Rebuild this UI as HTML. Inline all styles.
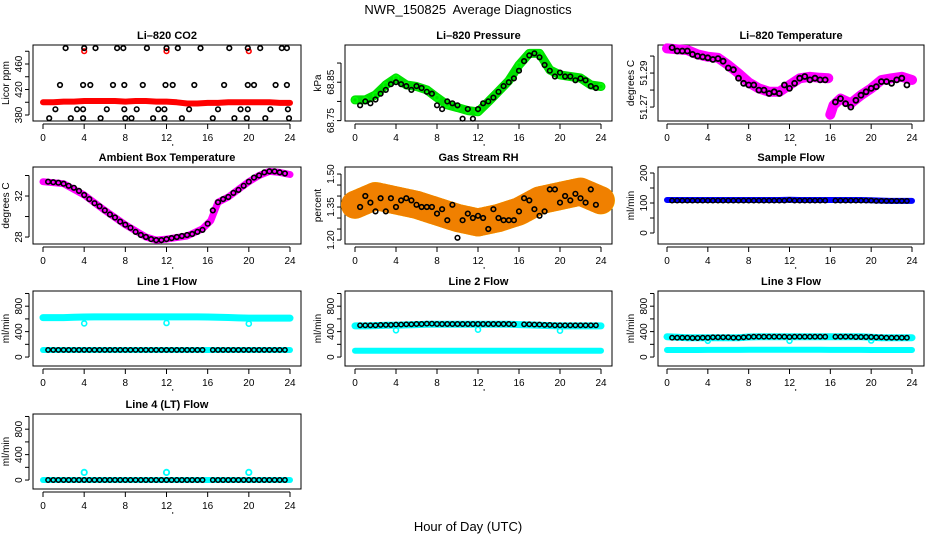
<!DOCTYPE html>
<html><head><meta charset="utf-8"><style>
html,body{margin:0;padding:0;background:#fff;}
svg{display:block;font-family:"Liberation Sans",Arial,sans-serif;}
</style></head><body>
<svg id="c" width="936" height="540" viewBox="0 0 936 540">
<text x="468" y="14" text-anchor="middle" font-size="13">NWR_150825&#160; Average Diagnostics</text>
<text x="468" y="531" text-anchor="middle" font-size="13">Hour of Day (UTC)</text>
</svg>
<script>
// ---------- data ----------
const hourTicks = [0,4,8,12,16,20,24];
const bandHrs = [0,1,2,3,4,5,6,7,8,9,10,11,12,13,14,15,16,17,18,19,20,21,22,23,24];
const blackHrs = [0.5,1,1.5,2,2.5,3,3.5,4,4.5,5,5.5,6,6.5,7,7.5,8,8.5,9,9.5,10,10.5,11,11.5,12,12.5,13,13.5,14,14.5,15,15.5,16,16.5,17,17.5,18,18.5,19,19.5,20,20.5,21,21.5,22,22.5,23,23.5];

// CO2
const co2Band = [400,400,401,401,402,402,402,402,401,402,402,401,401,400,398,398,399,399,400,400,400,400,400,399,399];
const co2BlackHrs = [2.2,4.0,5.1,7.2,7.8,10.1,12.0,13.1,15.3,18.1,19.9,21.1,23.2,23.7,
 1.65,3.9,4.6,6.8,7.9,9.7,11.9,12.6,14.7,17.6,19.9,20.5,22.6,23.7,
 1.2,3.3,3.9,6.2,7.9,9.1,11.2,11.8,14.2,17.0,19.2,19.9,22.1,23.8,
 0.6,2.7,3.9,5.6,8.0,8.6,10.7,11.8,13.5,16.5,18.6,19.8,21.6,23.9];
const co2BlackVals = [485,485,485,485,485,485,485,485,485,485,485,485,485,485,
 427,427,427,427,427,427,427,427,427,427,427,427,427,427,
 389,389,389,389,389,389,389,389,389,389,389,389,389,389,
 375,375,375,375,375,375,375,375,375,375,375,375,375,375];
const co2OutHrs = [4,12,20];
const co2OutVals = [480,480,480];

// Pressure
const presBand = [68.804,68.804,68.817,68.843,68.861,68.843,68.839,68.830,68.810,68.791,68.784,68.776,68.773,68.799,68.826,68.854,68.895,68.925,68.925,68.882,68.869,68.865,68.861,68.843,68.839];
const presBlack = [68.79,68.80,68.795,68.805,68.82,68.83,68.845,68.85,68.845,68.84,68.83,68.84,68.835,68.825,68.82,68.79,68.78,68.80,68.795,68.79,68.755,68.78,68.755,68.78,68.795,68.80,68.81,68.825,68.84,68.85,68.86,68.88,68.905,68.92,68.925,68.915,68.895,68.88,68.865,68.875,68.865,68.865,68.855,68.86,68.855,68.84,68.835];

// Li-820 temperature
const tempBandHrs1 = [0,1,2,3,4,5,6,7,8,9,10,11,12,13,14,15,15.8];
const tempBand1 = [51.3045,51.304,51.3035,51.301,51.2996,51.299,51.2947,51.2898,51.2845,51.281,51.279,51.279,51.283,51.2869,51.2878,51.2872,51.287];
const tempBandHrs2 = [16,16.3,17,18,19,20,21,22,23,24];
const tempBand2 = [51.2655,51.271,51.275,51.2722,51.277,51.281,51.2859,51.2869,51.2878,51.2859];
const tempBlack = [51.305,51.303,51.303,51.303,51.301,51.300,51.2995,51.299,51.298,51.2985,51.297,51.293,51.292,51.287,51.284,51.283,51.283,51.280,51.280,51.278,51.279,51.278,51.283,51.281,51.284,51.287,51.288,51.286,51.287,51.286,51.286,null,51.273,51.275,51.272,51.270,51.274,51.277,51.279,51.281,51.282,51.285,51.285,51.284,51.286,51.287,51.283];

// Ambient box temperature
const ambBandHrs = [0,2,4,6,8,10,11,12,14,15.5,16.3,17,18,20,21,22,23,24];
const ambBand = [33.4,33.2,32.1,30.6,29.2,28.0,27.7,27.8,28.1,28.8,29.6,31.4,31.9,33.4,34.0,34.4,34.3,34.1];
const ambBlack = [33.4,33.35,33.3,33.2,33.0,32.8,32.5,32.1,31.7,31.3,31.0,30.6,30.2,29.9,29.5,29.2,28.9,28.5,28.2,28.0,27.8,27.7,27.7,27.8,27.9,28.0,28.1,28.2,28.3,28.5,28.7,29.3,30.6,31.4,31.7,31.9,32.3,32.6,33.0,33.4,33.8,34.0,34.3,34.4,34.4,34.3,34.2];

// Gas stream RH
const rhBandHrs = [0,2,4,6,8,10,12,14,16,18,20,22,24];
const rhBand = [1.36,1.40,1.38,1.36,1.33,1.30,1.28,1.30,1.33,1.38,1.40,1.42,1.38];
const rhBlack = [1.35,1.40,1.37,1.33,1.39,1.33,1.39,1.35,1.38,1.39,1.38,1.36,1.35,1.35,1.35,1.32,1.34,1.29,1.36,1.21,1.29,1.32,1.30,1.31,1.30,1.25,1.34,1.30,1.29,1.29,1.29,1.33,1.39,1.38,1.34,1.31,1.33,1.43,1.43,1.37,1.40,1.38,1.41,1.39,1.37,1.43,1.36];

// Sample flow
const sampBand = [110,110,110,110,110,110,110,110,110,110,110,110,111,110,110,110,110,110,110,110,109,108,107,107,107];
const sampBlack = [108,108,108,108,108,108,108,108,108,108,108,108,108,108,108,108,108,108,108,108,108,108,108,110,108,108,108,108,108,108,108,null,108,108,108,108,108,108,108,108,107,107,107,107,107,107,107];

// Line 1 flow
const l1Upper = [620,620,620,625,630,632,632,632,632,632,632,632,632,632,632,632,630,625,622,615,612,612,612,612,612];
const l1Lower = [110,110,110,110,110,110,110,110,110,110,110,110,110,110,110,110,110,110,110,110,110,110,110,110,110];
const l1Black = [112,112,112,112,112,112,112,112,112,112,112,112,112,112,112,112,112,112,112,112,112,112,112,112,112,112,112,112,112,112,112,null,112,112,112,112,112,112,112,112,112,112,112,112,112,112,112];
const flowDipHrs = [4,12,20];
const l1Dips = [530,535,525];

// Line 2 flow
const l2Upper = [490,490,495,500,500,505,510,515,515,515,515,515,515,515,515,515,510,505,500,495,490,490,490,490,490];
const l2Lower = [100,100,100,100,100,100,100,100,100,100,100,100,100,100,100,100,100,100,100,100,100,100,100,100,100];
const l2Black = [500,500,500,500,505,505,505,510,510,515,515,520,520,525,525,520,520,520,520,520,520,520,520,520,520,520,520,520,520,520,515,null,515,515,510,510,505,505,500,500,500,500,500,500,500,500,500];
const l2Dips = [420,430,415];

// Line 3 flow
const l3Upper = [320,310,305,305,305,305,305,305,315,320,320,320,320,320,320,320,320,320,320,320,310,305,305,305,305];
const l3Lower = [110,110,110,110,112,112,112,112,115,115,115,115,115,115,115,115,112,112,112,112,110,110,110,110,110];
const l3Black = [305,305,305,305,300,300,305,305,310,310,310,310,305,305,310,315,320,320,320,320,320,320,320,315,320,320,320,320,320,320,320,null,320,320,320,320,315,315,315,315,310,310,305,305,305,305,305];
const l3Dips = [255,255,260];

// Line 4 flow
const l4Band = [0,0,0,0,0,0,0,0,0,0,0,0,0,0,0,0,0,0,0,0,0,0,0,0,0];
const l4Black = [0,0,0,0,0,0,0,0,0,0,0,0,0,0,0,0,0,0,0,0,0,0,0,0,0,0,0,0,0,0,0,null,0,0,0,0,0,0,0,0,0,0,0,0,0,0,0];
const l4Out = [120,120,120];

// axis tick sets
const co2Ticks = [380,400,420,440,460,480];
const co2Labels = [380,420,460];
const presTicks = [68.75,68.80,68.85,68.90];
const presLabels = ["68.75","68.85"];
const presLabelVals = [68.75,68.85];
const tempTicks = [51.27,51.28,51.29,51.30];
const tempLabels = ["51.27","51.29"];
const tempLabelVals = [51.27,51.29];
const ambTicks = [28,30,32,34];
const ambLabels = [28,32];
const rhTicks = [1.20,1.25,1.30,1.35,1.40,1.45,1.50];
const rhLabels = ["1.20","1.35","1.50"];
const rhLabelVals = [1.20,1.35,1.50];
const sampTicks = [0,50,100,150,200];
const sampLabels = [0,100,200];
const flowTicks = [0,200,400,600,800,1000];
const flowLabels = [0,400,800];

// ---------- layout ----------
const NS = "http://www.w3.org/2000/svg";
const svg = document.getElementById('c');
const cols = [{l:33,r:301,x0:43,x24:290},{l:345,r:612,x0:355,x24:601},{l:658,r:924,x0:667,x24:912}];
const rows = [{t:45,b:121},{t:167,b:244},{t:291,b:366},{t:414,b:489}];

function mk(tag, attrs, parent){
  const e = document.createElementNS(NS, tag);
  for (const k in attrs) e.setAttribute(k, attrs[k]);
  (parent||svg).appendChild(e);
  return e;
}

function panel(name, title, yTitle, ci, ri, ymin, ymax, ticks, labelVals, labelText){
  const c = cols[ci], r = rows[ri];
  const g = mk('g', {});
  
  
  const xs = h => c.x0 + (c.x24 - c.x0) * h / 24;
  const ys = v => r.b - (v - ymin) / (ymax - ymin) * (r.b - r.t);
  const t = mk('text', {x:(c.l+c.r)/2, y:r.t-6, 'text-anchor':'middle', 'font-size':'11', 'font-weight':'bold'}, g);
  t.textContent = title;
  
  
  const yt = mk('text', {transform:`translate(${c.l-24},${(r.t+r.b)/2}) rotate(-90)`, 'text-anchor':'middle', 'font-size':'10'}, g);
  yt.textContent = yTitle;
  
  
  const ax = mk('g', {stroke:'#000', 'stroke-width':'1'}, g);
  
  
  mk('line', {x1:c.x0, x2:c.x24, y1:r.b+3, y2:r.b+3}, ax);
  hourTicks.forEach(h => {
    mk('line', {x1:xs(h), x2:xs(h), y1:r.b+3, y2:r.b+8}, ax);
    const lt = mk('text', {x:xs(h), y:r.b+20, 'text-anchor':'middle', 'font-size':'10', stroke:'none'}, g);
    lt.textContent = h;
    
    
  });
  const ya = c.l - 4;
  mk('line', {x1:ya, x2:ya, y1:ys(ticks[0]), y2:ys(ticks[ticks.length-1])}, ax);
  ticks.forEach(v => mk('line', {x1:ya-4, x2:ya, y1:ys(v), y2:ys(v)}, ax));
  labelVals.forEach((v,i) => {
    const lt = mk('text', {transform:`translate(${ya-7},${ys(v)}) rotate(-90)`, 'text-anchor':'middle', 'font-size':'10'}, g);
    lt.textContent = labelText[i];
    
    
  });
  mk('rect', {x:c.l, y:r.t, width:c.r-c.l, height:r.b-r.t, fill:'none', stroke:'#000', 'stroke-width':'1'}, ax);
  mk('circle', {cx:xs(12.6), cy:r.b+24, r:0.7, fill:'#000', stroke:'none'}, g);
  const plot = mk('g', {}, g);
  
  
  return {xs, ys, g:plot, name};
}

function band(p, hrs, vals, color, width, label){
  let d = '';
  hrs.forEach((h,i) => { if (vals[i] === null) return; d += (d ? 'L' : 'M') + p.xs(h).toFixed(1) + ',' + p.ys(vals[i]).toFixed(1); });
  const e = mk('path', {d, fill:'none', stroke:color, 'stroke-width':width, 'stroke-linecap':'round', 'stroke-linejoin':'round'}, p.g);
  
  
  return e;
}
function pts(p, hrs, vals, color, rad, sw, label){
  const gg = mk('g', {fill:'none', stroke:color, 'stroke-width':sw}, p.g);
  
  
  hrs.forEach((h,i) => {
    if (vals[i] === null || vals[i] === undefined) return;
    const e = mk('circle', {cx:p.xs(h).toFixed(1), cy:p.ys(vals[i]).toFixed(1), r:rad}, gg);
    
    
  });
}

// CO2
let p = panel('co2', 'Li\u2013820 CO2', 'Licor ppm', 0, 0, 370.6, 489.8, co2Ticks, co2Labels, co2Labels);
band(p, bandHrs, co2Band, '#ff0000', 6, 'co2-band');
pts(p, co2OutHrs, co2OutVals, '#ff0000', 2.3, 1.6, 'co2-outliers');
pts(p, co2BlackHrs, co2BlackVals, '#000', 2.3, 1.6, 'co2-averages');

// Pressure
p = panel('pressure', 'Li\u2013820 Pressure', 'kPa', 1, 0, 68.749, 68.947, presTicks, presLabelVals, presLabels);
band(p, bandHrs, presBand, '#00e000', 9, 'pressure-band');
pts(p, bandHrs, presBand, '#00ff00', 2.5, 1.6, 'pressure-samples');
pts(p, blackHrs, presBlack, '#000', 2.3, 1.6, 'pressure-averages');

// Temperature
p = panel('temperature', 'Li\u2013820 Temperature', 'degrees C', 2, 0, 51.2618, 51.3065, tempTicks, tempLabelVals, tempLabels);
band(p, tempBandHrs1, tempBand1, '#ff00ff', 10, 'temp-band-1');
band(p, tempBandHrs2, tempBand2, '#ff00ff', 10, 'temp-band-2');
pts(p, blackHrs, tempBlack, '#000', 2.5, 1.8, 'temp-averages');

// Ambient
p = panel('ambient', 'Ambient Box Temperature', 'degrees C', 0, 1, 27.32, 34.83, ambTicks, ambLabels, ambLabels);
band(p, ambBandHrs, ambBand, '#ff00ff', 7, 'ambient-band');
pts(p, blackHrs, ambBlack, '#000', 2.3, 1.6, 'ambient-averages');

// RH
p = panel('rh', 'Gas Stream RH', 'percent', 1, 1, 1.182, 1.532, rhTicks, rhLabelVals, rhLabels);
band(p, rhBandHrs, rhBand, '#ffe000', 28, 'rh-band');
band(p, rhBandHrs, rhBand, '#f08000', 28, 'rh-band-dots').setAttribute('stroke-dasharray','2 2');
pts(p, blackHrs, rhBlack, '#000', 2.3, 1.6, 'rh-averages');

// Sample flow
p = panel('sample-flow', 'Sample Flow', 'ml/min', 2, 1, -36.7, 220, sampTicks, sampLabels, sampLabels);
band(p, bandHrs, sampBand, '#0000ff', 6, 'sample-band');
pts(p, blackHrs, sampBlack, '#000', 2.2, 1.5, 'sample-averages');

// Line 1
p = panel('line1-flow', 'Line 1 Flow', 'ml/min', 0, 2, -141, 1039, flowTicks, flowLabels, flowLabels);
band(p, bandHrs, l1Upper, '#00ffff', 7, 'line1-upper');
band(p, bandHrs, l1Lower, '#00ffff', 6, 'line1-lower');
pts(p, flowDipHrs, l1Dips, '#00ffff', 2.5, 1.6, 'line1-dips');
pts(p, blackHrs, l1Black, '#000', 2.2, 1.5, 'line1-averages');

// Line 2
p = panel('line2-flow', 'Line 2 Flow', 'ml/min', 1, 2, -141, 1039, flowTicks, flowLabels, flowLabels);
band(p, bandHrs, l2Upper, '#00ffff', 7, 'line2-upper');
band(p, bandHrs, l2Lower, '#00ffff', 6, 'line2-lower');
pts(p, flowDipHrs, l2Dips, '#00ffff', 2.5, 1.6, 'line2-dips');
pts(p, blackHrs, l2Black, '#000', 2.2, 1.5, 'line2-averages');

// Line 3
p = panel('line3-flow', 'Line 3 Flow', 'ml/min', 2, 2, -141, 1039, flowTicks, flowLabels, flowLabels);
band(p, bandHrs, l3Upper, '#00ffff', 7, 'line3-upper');
band(p, bandHrs, l3Lower, '#00ffff', 6, 'line3-lower');
pts(p, flowDipHrs, l3Dips, '#00ffff', 2.5, 1.6, 'line3-dips');
pts(p, blackHrs, l3Black, '#000', 2.2, 1.5, 'line3-averages');

// Line 4
p = panel('line4-flow', 'Line 4 (LT) Flow', 'ml/min', 0, 3, -141, 1039, flowTicks, flowLabels, flowLabels);
band(p, bandHrs, l4Band, '#00ffff', 6, 'line4-band');
pts(p, flowDipHrs, l4Out, '#00ffff', 2.7, 1.8, 'line4-outliers');
pts(p, blackHrs, l4Black, '#000', 2.2, 1.5, 'line4-averages');
</script>
</body></html>
